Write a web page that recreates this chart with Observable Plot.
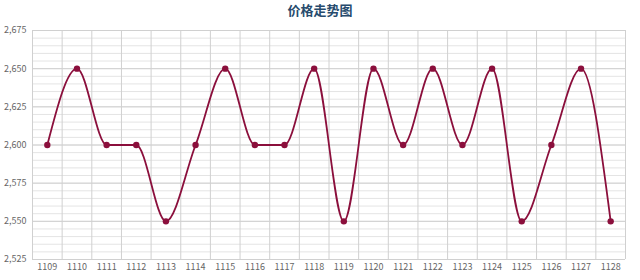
<!DOCTYPE html>
<html><head><meta charset="utf-8">
<script src="https://cdn.jsdelivr.net/npm/d3@7"></script>
<script src="https://cdn.jsdelivr.net/npm/@observablehq/plot@0.6"></script>
<style>
body{margin:0;background:#fff;}
#title{height:20px;line-height:30px;text-align:center;font:bold 13px "Noto Sans CJK SC",sans-serif;color:#274b6d;overflow:visible;}
</style></head>
<body>
<div id="title">价格走势图</div>
<div id="chart"></div>
<script>
const categories = ["1109","1110","1111","1112","1113","1114","1115","1116","1117","1118","1119","1120","1121","1122","1123","1124","1125","1126","1127","1128"];
const prices = [2600,2650,2600,2600,2550,2600,2650,2600,2600,2650,2550,2650,2600,2650,2600,2650,2550,2600,2650,2550];
const yTicks = [2525,2550,2575,2600,2625,2650,2675];

const data = categories.map((c,i)=>({i, c, v: prices[i]}));
const minorY = d3.range(yTicks[0], yTicks[yTicks.length-1]+1, 5);
const bounds = d3.range(categories.length+1).map(k=>k-0.5);

const chart = Plot.plot({
  width: 640, height: 260,
  marginLeft: 32, marginRight: 15, marginTop: 10, marginBottom: 21,
  style: {fontFamily: "'Noto Sans CJK SC', sans-serif", fontSize: "9px", color: "#666", overflow: "visible"},
  x: {type: "linear", domain: [-0.5, categories.length-0.5], ticks: d3.range(categories.length), tickFormat: i => categories[i], tickSize: 0, tickPadding: 4, label: null},
  y: {domain: [yTicks[0], yTicks[yTicks.length-1]], ticks: yTicks, tickFormat: d3.format(","), tickSize: 0, tickPadding: 6, label: null},
  marks: [
    Plot.ruleY(minorY, {stroke: "#e4e4e4", strokeWidth: 1, strokeOpacity: 1}),
    Plot.ruleY(yTicks, {stroke: "#d0d0d0", strokeWidth: 1, strokeOpacity: 1}),
    Plot.ruleX(bounds, {stroke: "#d0d0d0", strokeWidth: 1, strokeOpacity: 1}),
    Plot.line(data, {x: "i", y: "v", curve: "monotone-x", stroke: "#8b0f3c", strokeWidth: 1.8}),
    Plot.dot(data, {x: "i", y: "v", r: 3.2, fill: "#8b0f3c", stroke: "none"})
  ]
});
document.getElementById("chart").appendChild(chart);
</script>
</body></html>
